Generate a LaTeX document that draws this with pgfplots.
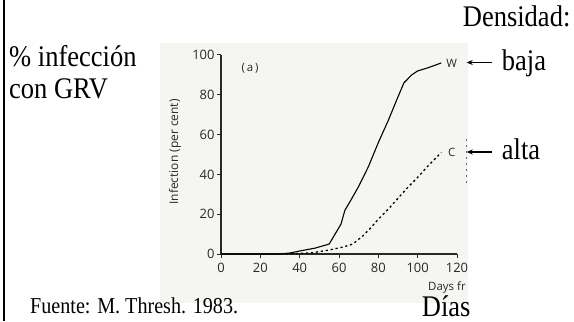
\documentclass[border=0pt]{standalone}
\usepackage{pgfplots}
\pgfplotsset{compat=1.18}
\usetikzlibrary{arrows.meta}
\usepackage{graphicx}
\usepackage{fontspec}
\setmainfont{Liberation Serif}
\newfontfamily\tickfont{Open Sans}
\definecolor{photobg}{RGB}{245,245,242}
\definecolor{ink}{RGB}{40,40,40}
\newcommand{\bigtxt}[2][26.6]{\scalebox{1}[1.13]{\fontsize{#1}{#1}\selectfont #2}}
\begin{document}
\begin{tikzpicture}[x=1bp,y=1bp]
\useasboundingbox (0,0) rectangle (574,321);
\fill[white] (0,0) rectangle (574,321);
\fill[photobg] (160,18) rectangle (468,278);
\draw[black,line width=2.5bp] (4,0) -- (4,321);
\draw[ink!70, line width=1bp, dash pattern=on 2bp off 4bp] (466,138) -- (466,183);
\begin{axis}[
  at={(221bp,67bp)}, anchor=south west,
  scale only axis, width=236bp, height=199bp,
  xmin=0, xmax=120, ymin=0, ymax=100,
  enlargelimits=false,
  axis lines=left, axis line style={-, ink, line width=1.2bp},
  xtick={0,20,...,120}, ytick={0,20,...,100},
  tick align=outside, major tick length=4bp,
  tick style={ink, line width=1bp},
  /pgf/number format/assume math mode=true,
  tick label style={font=\tickfont\fontsize{13}{13}\selectfont, text=ink},
  xticklabel style={yshift=-2bp},
  yticklabel style={xshift=1bp},
  clip=false,
]
\addplot[black, line width=1.1bp] coordinates {
(0,0) (30,0) (35,0.5) (40,1.5) (48,3) (55,5) (58,10) (61,15) (63,22) (66,27) (70,34) (75,44) (80,56) (85,67) (90,79) (93,86) (97,90) (100,92) (105,93.5) (112,96)
};
\addplot[black, line width=1.3bp, dash pattern=on 2.2bp off 2.8bp] coordinates {
(33,0) (40,0.3) (47,0.7) (55,2) (62,3.5) (67,5) (72,9) (76,13) (80,17.5) (85,22.5) (90,28) (95,33.5) (100,38.5) (105,44) (110,49) (112,51)
};
\end{axis}
% labels inside the photo
\node[ink, font=\tickfont\fontsize{11.5}{10}\selectfont] at (451.7,258) {W};
\node[ink, font=\tickfont\fontsize{11.5}{10}\selectfont] at (451.7,169) {C};
\node[ink, font=\tickfont\fontsize{11.5}{10}\selectfont] at (250,253) {(\,a\,)};
\node[ink, rotate=90, font=\tickfont\fontsize{12}{10}\selectfont] at (175,169) {Infection (per cent)};
\node[ink, anchor=west, inner sep=0, font=\tickfont\fontsize{11.5}{10}\selectfont] at (428,34) {Days fr};
% overlay texts
\node[anchor=base west, inner sep=0] at (9,254.3) {\bigtxt{\% infección}};
\node[anchor=base west, inner sep=0] at (9,222.7) {\bigtxt{con GRV}};
\node[anchor=base west, inner sep=0] at (462.7,294.3) {\bigtxt{Densidad:}};
\node[anchor=base west, inner sep=0] at (501.7,251) {\bigtxt{baja}};
\node[anchor=base west, inner sep=0] at (501.7,162) {\bigtxt{alta}};
\node[anchor=base west, inner sep=0] at (421.7,5) {\bigtxt{Días}};
\node[anchor=base west, inner sep=0] at (30,7.7) {\bigtxt[20.2]{Fuente: M. Thresh. 1983.}};
\draw[-{Stealth[length=6bp,width=5bp]}, line width=1.6bp] (492,258.5) -- (466.7,258.5);
\draw[-{Stealth[length=6bp,width=5bp]}, line width=1.6bp] (492,169) -- (466.7,169);
\end{tikzpicture}
\end{document}
